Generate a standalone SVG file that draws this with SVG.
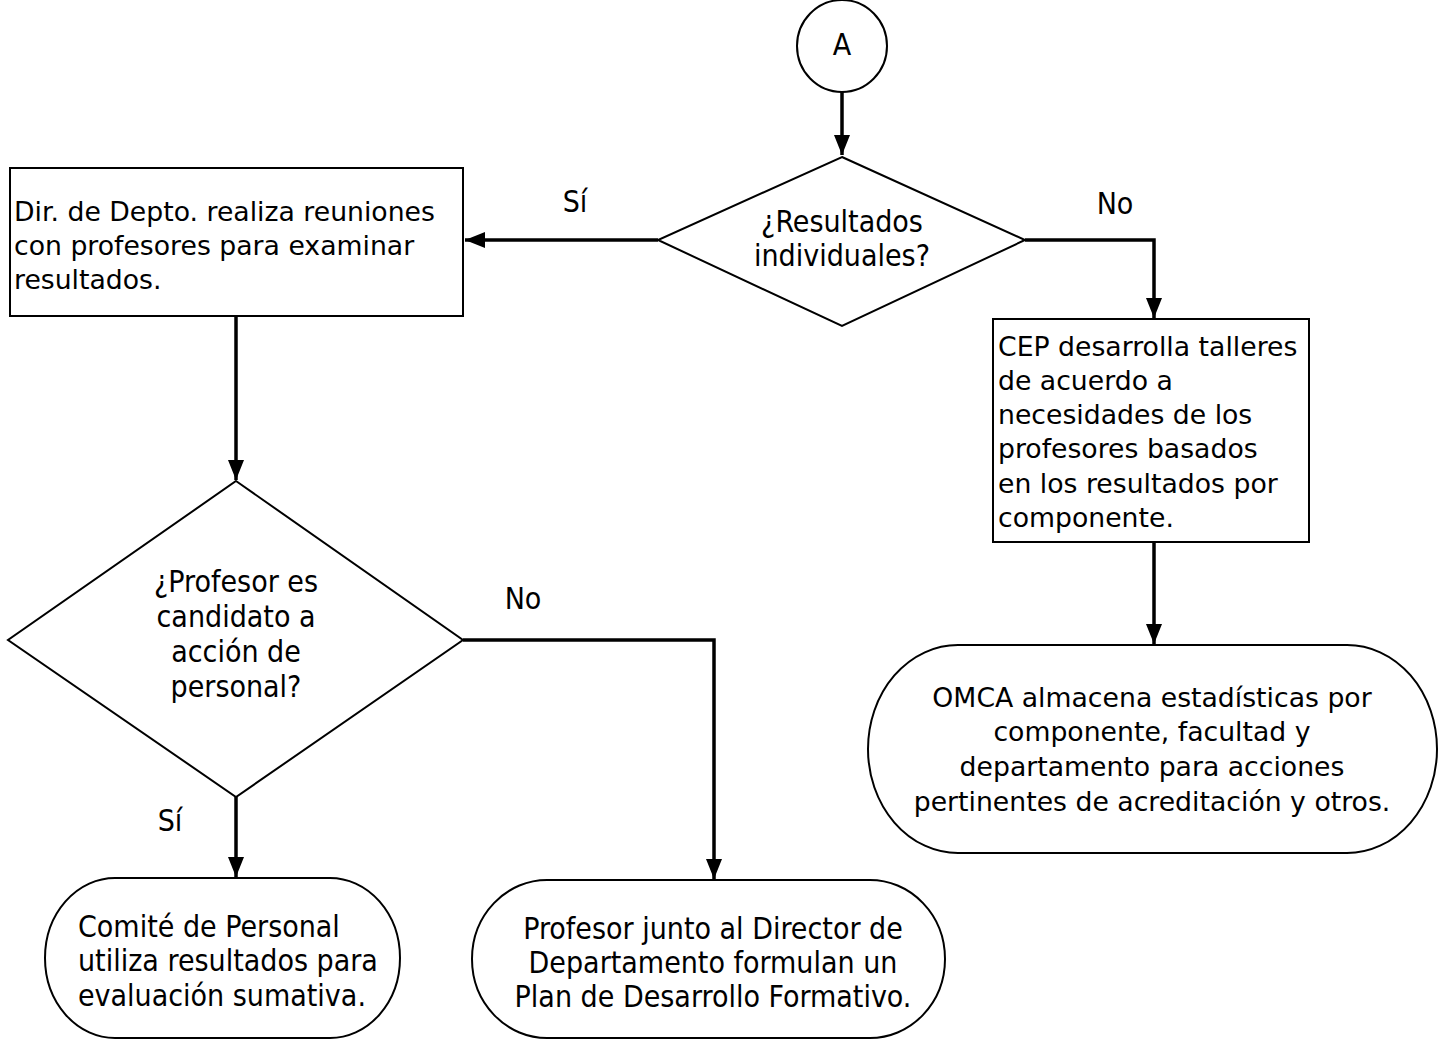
<svg xmlns="http://www.w3.org/2000/svg" width="1442" height="1040" viewBox="0 0 1442 1040">
<defs>
<marker id="arr" viewBox="0 0 20 16" refX="20" refY="8" markerWidth="20" markerHeight="16" markerUnits="userSpaceOnUse" orient="auto">
<path d="M0,0 L20,8 L0,16 Z" fill="#000"/>
</marker>
<style>
.shape{fill:#fff;stroke:#000;stroke-width:2}
.conn{fill:none;stroke:#000;stroke-width:3.5}
.v{font-family:"DejaVu Sans",Verdana,sans-serif;font-size:26.7px;fill:#000}
.t{font-family:"DejaVu Sans Condensed","DejaVu Sans",sans-serif;font-size:30px;fill:#000}
.c{text-anchor:middle}
</style>
</defs>
<rect width="1442" height="1040" fill="#fff"/>
<g id="connectors">
<path class="conn" d="M842,92 L842,155" marker-end="url(#arr)"/>
<path class="conn" d="M658,240 L465,240" marker-end="url(#arr)"/>
<path class="conn" d="M1025,240 L1154,240 L1154,318" marker-end="url(#arr)"/>
<path class="conn" d="M236,317 L236,480" marker-end="url(#arr)"/>
<path class="conn" d="M463,640 L714,640 L714,879" marker-end="url(#arr)"/>
<path class="conn" d="M236,797 L236,877" marker-end="url(#arr)"/>
<path class="conn" d="M1154,542 L1154,644" marker-end="url(#arr)"/>
<text class="t" x="575" y="212" text-anchor="middle">Sí</text>
<text class="t" x="1115" y="214" text-anchor="middle">No</text>
<text class="t" x="523" y="609" text-anchor="middle">No</text>
<text class="t" x="170" y="831" text-anchor="middle">Sí</text>
</g>
<g id="start">
<ellipse class="shape" cx="842" cy="46" rx="45" ry="46"/>
<text class="t c" x="842" y="55">A</text>
</g>
<g id="dec1">
<polygon class="shape" points="842,157 1025,240 842,326 658,240"/>
<text class="t c" x="842" y="232">¿Resultados</text>
<text class="t c" x="842" y="266">individuales?</text>
</g>
<g id="box1">
<rect class="shape" x="10" y="168" width="453" height="148"/>
<text class="v" x="14" y="221">Dir. de Depto. realiza reuniones</text>
<text class="v" x="14" y="255">con profesores para examinar</text>
<text class="v" x="14" y="289">resultados.</text>
</g>
<g id="dec2">
<polygon class="shape" points="236,481 463,640 236,797 8,640"/>
<text class="t c" x="236" y="592">¿Profesor es</text>
<text class="t c" x="236" y="627">candidato a</text>
<text class="t c" x="236" y="662">acción de</text>
<text class="t c" x="236" y="697">personal?</text>
</g>
<g id="cep">
<rect class="shape" x="993" y="319" width="316" height="223"/>
<text class="v" x="998" y="356">CEP desarrolla talleres</text>
<text class="v" x="998" y="390">de acuerdo a</text>
<text class="v" x="998" y="424">necesidades de los</text>
<text class="v" x="998" y="458">profesores basados</text>
<text class="v" x="998" y="493">en los resultados por</text>
<text class="v" x="998" y="527">componente.</text>
</g>
<g id="omca">
<rect class="shape" x="868" y="645" width="569" height="208" rx="90" ry="104"/>
<text class="v c" x="1152" y="707">OMCA almacena estadísticas por</text>
<text class="v c" x="1152" y="741">componente, facultad y</text>
<text class="v c" x="1152" y="776">departamento para acciones</text>
<text class="v c" x="1152" y="811">pertinentes de acreditación y otros.</text>
</g>
<g id="comite">
<rect class="shape" x="45" y="878" width="355" height="160" rx="70" ry="80"/>
<text class="t" x="78" y="937">Comité de Personal</text>
<text class="t" x="78" y="971">utiliza resultados para</text>
<text class="t" x="78" y="1006">evaluación sumativa.</text>
</g>
<g id="plan">
<rect class="shape" x="472" y="880" width="473" height="158" rx="75" ry="79"/>
<text class="t c" x="713" y="939">Profesor junto al Director de</text>
<text class="t c" x="713" y="973">Departamento formulan un</text>
<text class="t c" x="713" y="1007">Plan de Desarrollo Formativo.</text>
</g>
</svg>
